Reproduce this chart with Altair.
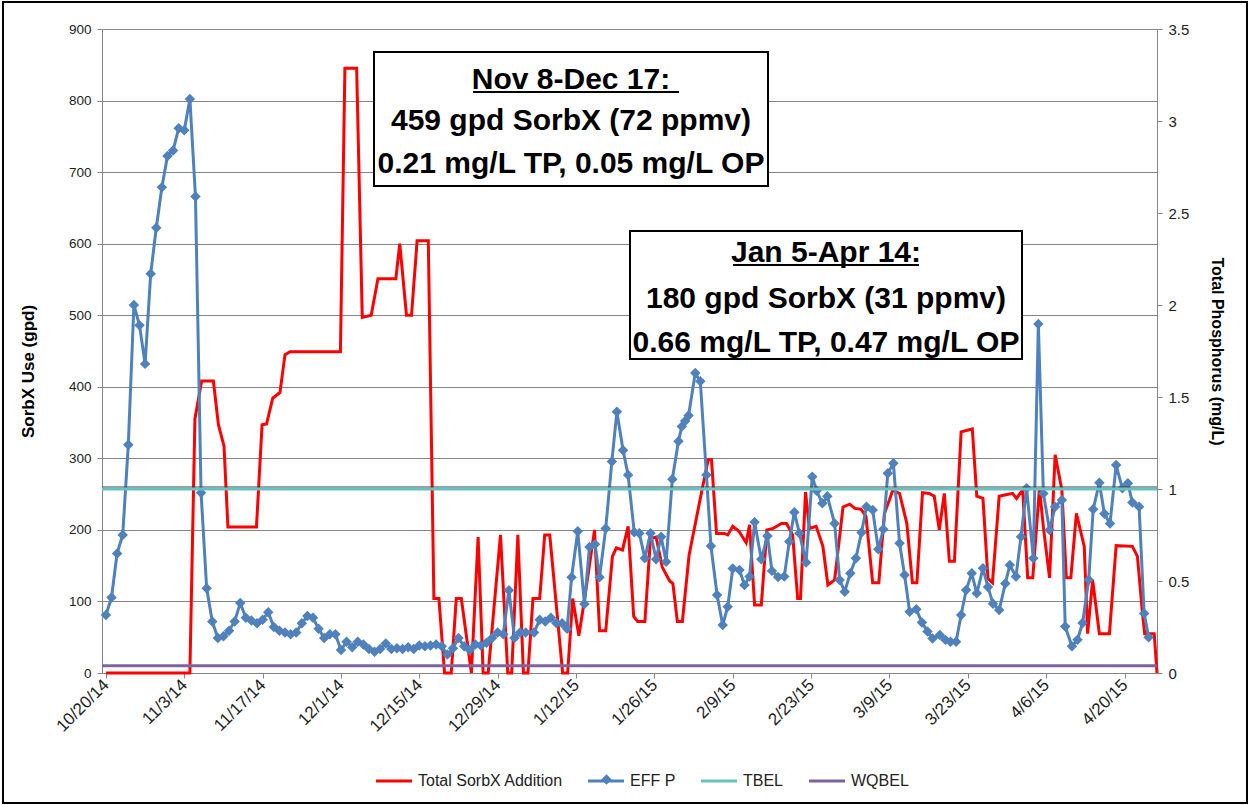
import altair as alt
import pandas as pd

BASE = pd.Timestamp("2014-10-20")

# ---- Total SorbX Addition (gpd), vertices: day offset from 10/20/14, value
red_days = [0, 15.0, 15.9, 17.1, 19.2, 20.1, 21.1, 21.8, 26.9, 27.9,
            28.7, 29.8, 31.1, 32.0, 32.9, 41.9, 42.7, 44.8, 45.8, 47.4,
            48.6, 51.8, 52.5, 53.7, 54.6, 55.6, 57.6, 58.6, 59.5, 60.5,
            61.7, 62.6, 63.5, 65.3, 66.5, 67.4, 68.3, 70.5, 71.8, 72.5,
            73.6, 74.6, 75.4, 76.3, 77.5, 78.4, 79.3, 81.6, 82.5, 83.4,
            84.5, 85.5, 87.3, 88.2, 89.3, 90.5, 91.2, 92.3, 93.3, 94.3,
            95.0, 96.3, 97.3, 98.3, 99.4, 100.7, 101.3, 102.1, 103.0, 104.2,
            106.1, 107.6, 108.2, 109.1, 110.5, 111.1, 112.0, 113.1, 114.4, 115.0,
            115.9, 117.1, 118.1, 119.2, 120.7, 121.6, 122.7, 123.6, 124.1, 125.0,
            125.7, 126.9, 128.1, 129.0, 130.2, 131.7, 132.9, 133.8, 134.9, 135.8,
            137.0, 138.1, 139.1, 140.0, 140.6, 141.8, 143.1, 144.1, 144.9, 145.9,
            147.1, 148.0, 148.9, 149.8, 150.7, 151.6, 152.8, 154.8, 155.6, 156.7,
            157.6, 158.4, 159.6, 160.8, 162.0, 162.7, 163.8, 164.7, 165.6, 166.8,
            167.5, 168.6, 169.6, 170.8, 171.6, 172.4, 173.4, 174.8, 175.4, 176.3,
            177.5, 179.3, 180.5, 183.4, 184.3, 185.2, 185.6, 187.3, 187.8]
red_gpd = [0, 0, 355, 408, 408, 347, 317, 204, 204, 347,
           348, 384, 392, 445, 449, 449, 845, 845, 497, 500,
           551, 551, 600, 500, 500, 604, 604, 104, 104, 0,
           0, 104, 104, 0, 190, 0, 0, 193, 0, 0,
           193, 0, 0, 104, 104, 193, 193, 0, 0, 104,
           52, 102, 200, 59, 59, 163, 175, 172, 205, 79,
           72, 72, 188, 190, 148, 129, 125, 72, 72, 165,
           240, 298, 298, 195, 195, 193, 205, 198, 182, 207,
           95, 95, 200, 202, 209, 209, 193, 104, 104, 253,
           202, 205, 177, 123, 130, 232, 236, 230, 229, 219,
           126, 126, 223, 242, 256, 251, 209, 126, 126, 252,
           251, 247, 200, 251, 156, 156, 337, 341, 247, 244,
           132, 126, 247, 249, 251, 244, 256, 133, 133, 258,
           204, 133, 305, 256, 133, 133, 223, 177, 55, 130,
           55, 55, 178, 177, 163, 84, 55, 55, 0]

# ---- EFF P (mg/L)
effp_days = [0, 1, 2, 3, 4, 5, 6, 7, 8, 9,
             10, 11, 12, 13, 14, 15, 16, 17, 18, 19,
             20, 21, 22, 23, 24, 25, 26, 27, 28, 29,
             30, 31, 32, 33, 34, 35, 36, 37, 38, 39,
             40, 41, 42, 43, 44, 45, 46, 47, 48, 49,
             50, 51, 52, 53, 54, 55, 56, 57, 58, 59,
             60, 61, 62, 63, 64, 65, 66, 67, 68, 69,
             70, 71, 72, 73, 74, 75,
             76.5, 77.5, 78.5, 79.5, 80.5, 81.5, 82.4, 83.2, 84.3, 85.5,
             86.4, 87.4, 88.2, 89.3, 90.4, 91.3, 92.4, 93.3, 94.4, 95.3,
             96.3, 97.3, 98.3, 99.2, 100.1, 101.2, 102.3, 102.9, 103.5, 104.1,
             105.3, 106.2, 107.3, 108.1, 109.2, 110.2, 111.1, 112.0, 113.2, 114.1,
             115.0, 115.9, 117.1, 118.2, 119.0, 120.1, 121.2, 122.1, 123.0, 123.9,
             125.1, 126.2, 127.0, 128.0, 128.9, 130.2, 131.1, 132.0, 133.0, 134.0,
             135.0, 135.9, 137.0, 138.0, 138.9, 139.7, 140.7, 141.8, 142.7, 143.6,
             144.8, 145.8, 146.8, 147.7, 149.0, 150.0, 150.9, 151.9, 152.8, 153.7,
             154.7, 155.6, 156.7, 157.6, 158.5, 159.6, 160.7, 161.5, 162.6, 163.5,
             164.5, 165.7, 166.6, 167.5, 168.6, 169.6, 170.8, 171.4, 172.6, 173.6,
             174.5, 175.6, 176.4, 177.5, 178.4, 179.4, 180.5, 181.6, 182.6, 183.4,
             184.6, 185.5, 186.3]
effp_mgl = [0.315, 0.41, 0.65, 0.75, 1.24, 2.0, 1.89, 1.68, 2.17, 2.42,
            2.64, 2.81, 2.84, 2.96, 2.95, 3.12, 2.59, 0.98, 0.46, 0.28,
            0.19, 0.20, 0.23, 0.28, 0.38, 0.30, 0.285, 0.27, 0.29, 0.33,
            0.25, 0.23, 0.22, 0.21, 0.22, 0.27, 0.31, 0.30, 0.24, 0.19,
            0.21, 0.21, 0.125, 0.17, 0.14, 0.17, 0.155, 0.13, 0.115, 0.13,
            0.16, 0.13, 0.135, 0.13, 0.14, 0.13, 0.15, 0.145, 0.15, 0.155,
            0.145, 0.10, 0.135, 0.19, 0.145, 0.125, 0.155, 0.15, 0.165, 0.19,
            0.22, 0.21, 0.45, 0.19, 0.22, 0.22,
            0.22, 0.29, 0.28, 0.30, 0.27, 0.27, 0.24, 0.52, 0.77, 0.375,
            0.685, 0.70, 0.52, 0.785, 1.15, 1.42, 1.21, 1.076, 0.765, 0.76,
            0.623, 0.76, 0.618, 0.74, 0.605, 1.053, 1.26, 1.34, 1.37, 1.40,
            1.63, 1.585, 1.076, 0.69, 0.424, 0.261, 0.36, 0.568, 0.56, 0.478,
            0.524, 0.82, 0.618, 0.745, 0.555, 0.522, 0.524, 0.714, 0.874, 0.76,
            0.60, 1.067, 0.99, 0.922, 0.96, 0.813, 0.506, 0.442, 0.542, 0.623,
            0.763, 0.904, 0.886, 0.672, 0.781, 1.085, 1.14, 0.705, 0.533, 0.333,
            0.346, 0.274, 0.225, 0.188, 0.207, 0.18, 0.17, 0.17, 0.315, 0.451,
            0.542, 0.433, 0.569, 0.467, 0.377, 0.342, 0.486, 0.587, 0.524, 0.741,
            1.004, 0.623, 1.897, 0.976, 0.777, 0.904, 0.94, 0.253, 0.145, 0.181,
            0.272, 0.507, 0.89, 1.034, 0.866, 0.812, 1.13, 1.004, 1.031, 0.926,
            0.904, 0.324, 0.194]

tbel_mgl = 1.0
wqbel_mgl = 0.04

series_names = ["Total SorbX Addition", "EFF P", "TBEL", "WQBEL"]
series_colors = ["#FF0000", "#4F81BD", "#66C2C2", "#7E649E"]

tick_labels = ["10/20/14", "11/3/14", "11/17/14", "12/1/14", "12/15/14", "12/29/14",
               "1/12/15", "1/26/15", "2/9/15", "2/23/15", "3/9/15", "3/23/15",
               "4/6/15", "4/20/15"]
left_ticks = [0, 100, 200, 300, 400, 500, 600, 700, 800, 900]
right_ticks = [0, 0.5, 1, 1.5, 2, 2.5, 3, 3.5]

box1_lines = ["Nov 8-Dec 17:", "459 gpd SorbX (72 ppmv)", "0.21 mg/L TP, 0.05 mg/L OP"]
box2_lines = ["Jan 5-Apr 14:", "180 gpd SorbX (31 ppmv)", "0.66 mg/L TP, 0.47 mg/L OP"]


def iso(days):
    return [(BASE + pd.Timedelta(days=float(d))).strftime("%Y-%m-%dT%H:%M:%S") for d in days]


def dtobj(ts):
    return alt.DateTime(year=ts.year, month=ts.month, date=ts.day,
                        hours=ts.hour, minutes=ts.minute)


red_df = pd.DataFrame({"date": iso(red_days), "gpd": red_gpd,
                       "series": "Total SorbX Addition"})
effp_df = pd.DataFrame({"date": iso(effp_days), "mgl": effp_mgl, "series": "EFF P",
                        "marker": "EFF P"})
lim_df = pd.DataFrame({"series": ["TBEL", "WQBEL"], "mgl": [tbel_mgl, wqbel_mgl]})

x_start = BASE + pd.Timedelta(days=-0.7)
x_end = BASE + pd.Timedelta(days=187.8)
tick_vals = [dtobj(pd.to_datetime(t, format="%m/%d/%y")) for t in tick_labels]

FONT = "Liberation Sans"
BLUE = "#4F81BD"

x_enc = alt.X("date:T",
              scale=alt.Scale(domain=[dtobj(x_start), dtobj(x_end)]),
              axis=alt.Axis(values=tick_vals, format="%-m/%-d/%y", labelAngle=-45,
                            labelAlign="right", labelBaseline="middle", title=None,
                            grid=False, labelFontSize=17, labelFont=FONT,
                            labelColor="#222222", domainColor="#868686",
                            tickColor="#868686", tickSize=5, labelPadding=4,
                            labelOverlap=False, labelFlush=False))

y_left = alt.Y("gpd:Q", scale=alt.Scale(domain=[0, 900], nice=False),
               axis=alt.Axis(values=left_ticks, title="SorbX Use (gpd)", grid=True,
                             gridColor="#868686", gridWidth=1, domainColor="#868686",
                             tickColor="#868686", tickSize=5, labelFontSize=13.5,
                             labelFont=FONT, labelColor="#222222", labelPadding=6,
                             titleFont=FONT, titleFontSize=17, titleFontWeight="bold",
                             titleColor="#000000", titleX=-65, titleY=342))

y_right = alt.Y("mgl:Q", scale=alt.Scale(domain=[0, 3.5], nice=False),
                axis=alt.Axis(orient="right", values=right_ticks, format="~g",
                              title="Total Phosphorus (mg/L)", grid=False,
                              domainColor="#868686", tickColor="#868686", tickSize=5,
                              labelFontSize=15, labelFont=FONT, labelColor="#222222",
                              labelPadding=6, titleFont=FONT, titleFontSize=16,
                              titleFontWeight="bold", titleColor="#000000",
                              titlePadding=20))

color_enc = alt.Color("series:N",
                      scale=alt.Scale(domain=series_names, range=series_colors),
                      legend=alt.Legend(title=None, orient="none", legendX=272,
                                        legendY=732, direction="horizontal", padding=0,
                                        symbolType="stroke", symbolSize=1300,
                                        symbolStrokeWidth=3, labelFont=FONT,
                                        labelFontSize=16, labelColor="#222222",
                                        columnPadding=18, labelOffset=4))

# diamond marker on the EFF P legend entry
shape_enc = alt.Shape("marker:N", scale=alt.Scale(domain=["EFF P"], range=["diamond"]),
                      legend=alt.Legend(title=None, orient="none", legendX=499,
                                        legendY=745, padding=0, symbolSize=110,
                                        symbolFillColor=BLUE, symbolStrokeColor=BLUE,
                                        symbolStrokeWidth=0, symbolOpacity=1,
                                        labelExpr="''", labelFontSize=1,
                                        labelOffset=0))

red = alt.Chart(red_df).mark_line(strokeWidth=3).encode(x=x_enc, y=y_left, color=color_enc)

one = pd.DataFrame({"k": [0]})


def box(x0, x1, y0, y1):
    return alt.Chart(one).mark_rect(fill="white", stroke="black", strokeWidth=2).encode(
        x=alt.value(x0), x2=alt.value(x1), y=alt.value(y0), y2=alt.value(y1))


def label(txt, x, y):
    return alt.Chart(one).mark_text(font=FONT, fontSize=30, fontWeight="bold",
                                    color="black", align="center",
                                    baseline="alphabetic").encode(
        x=alt.value(x), y=alt.value(y), text=alt.value(txt))


def uline(x0, x1, y):
    return alt.Chart(one).mark_rule(color="black", strokeWidth=2).encode(
        x=alt.value(x0), x2=alt.value(x1), y=alt.value(y))


frame = alt.Chart(one).mark_rect(filled=False, stroke="black", strokeWidth=2).encode(
    x=alt.value(-99), x2=alt.value(1145), y=alt.value(-27), y2=alt.value(774))

ann = [box(272, 666, 23, 157), box(528, 920, 202, 330)]
ann += [label(box1_lines[0], 469, 60), label(box1_lines[1], 469, 101),
        label(box1_lines[2], 469, 144)]
ann += [label(box2_lines[0], 724, 233), label(box2_lines[1], 724, 279),
        label(box2_lines[2], 724, 323)]
ann += [uline(371, 577, 63), uline(631, 817, 236)]

left = alt.layer(red, *ann, frame)

blue_line = alt.Chart(effp_df).mark_line(strokeWidth=3).encode(
    x=x_enc, y=y_right, color=color_enc)
blue_pts = alt.Chart(effp_df).mark_point(filled=True, size=110, opacity=1,
                                         color=BLUE).encode(
    x=x_enc, y=y_right, shape=shape_enc)
tbel_dark = alt.Chart(lim_df).transform_filter(alt.datum.series == "TBEL").mark_rule(
    color="#3a3a3a", strokeWidth=1, yOffset=-2).encode(y=y_right)
limits = alt.Chart(lim_df).mark_rule(strokeWidth=3).encode(y=y_right, color=color_enc)

right = alt.layer(blue_line, blue_pts, tbel_dark, limits)

chart = alt.layer(left, right).resolve_scale(y="independent").properties(
    width=1055, height=644,
    autosize=alt.AutoSizeParams(type="none"),
    padding={"left": 102, "top": 29, "right": 92, "bottom": 132},
    background="white",
).configure_view(stroke=None)

chart.save("out.html", embed_options={"renderer": "svg", "actions": False})
